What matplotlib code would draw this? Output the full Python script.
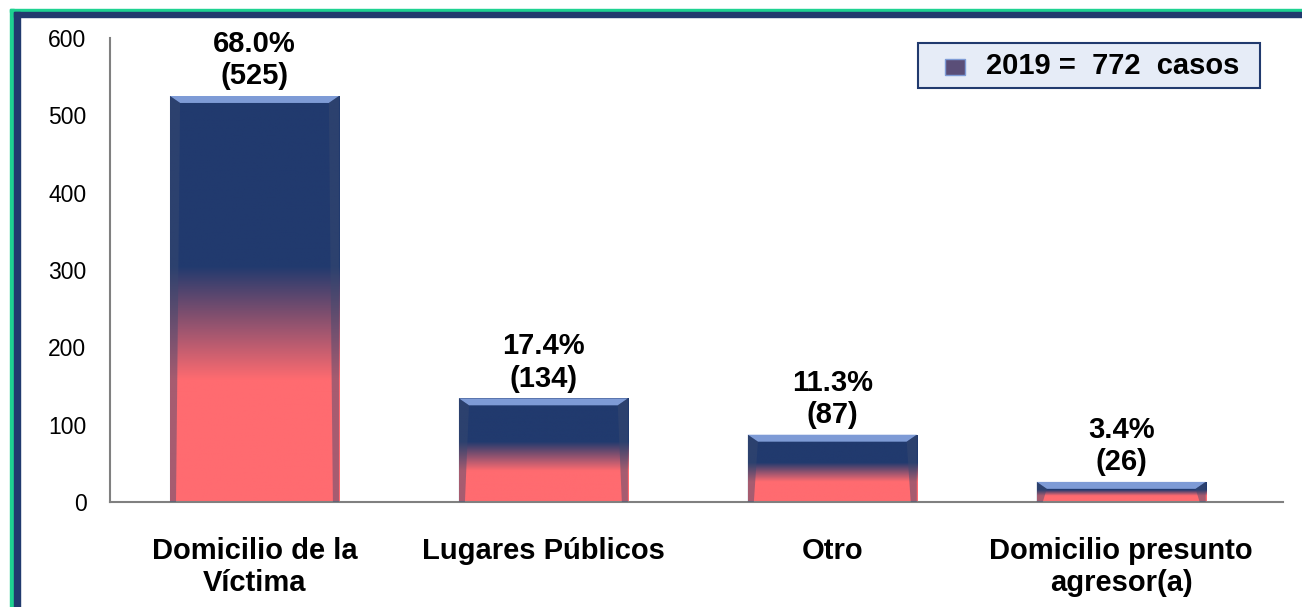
import numpy as np
import matplotlib
matplotlib.use('Agg')
import matplotlib.pyplot as plt
from matplotlib.colors import LinearSegmentedColormap
from matplotlib.patches import Polygon, Rectangle

plt.rcParams['font.family'] = ['Liberation Sans', 'DejaVu Sans']

# Data
categories = ['Domicilio de la\nVíctima', 'Lugares Públicos', 'Otro', 'Domicilio presunto\nagresor(a)']
cases = [525, 134, 87, 26]
percents = [68.0, 17.4, 11.3, 3.4]
legend_text = '2019 =  772  casos'

navy = '#213A6E'
red = '#FF6B70'
bevel = '#7E9BD6'

cmap = LinearSegmentedColormap.from_list(
    'barfade', [(0.0, red), (0.30, red), (0.58, navy), (1.0, navy)])

fig = plt.figure(figsize=(13.02, 6.07), dpi=100)

# frame lines on left and top
fig.patches.append(Rectangle((10 / 1302, 0), 4 / 1302, 1 - 9 / 607,
                             transform=fig.transFigure, color='#1ED291', zorder=0))
fig.patches.append(Rectangle((10 / 1302, 1 - 12 / 607), 1 - 10 / 1302, 3 / 607,
                             transform=fig.transFigure, color='#1ED291', zorder=0))
fig.patches.append(Rectangle((14 / 1302, 0), 6 / 1302, 1 - 12 / 607,
                             transform=fig.transFigure, color=navy, zorder=1))
fig.patches.append(Rectangle((14 / 1302, 1 - 17 / 607), 1 - 14 / 1302, 5 / 607,
                             transform=fig.transFigure, color=navy, zorder=1))

ax = fig.add_axes([110 / 1302, 1 - 502 / 607, (1283 - 110) / 1302, (502 - 38) / 607])
x = np.arange(len(categories))
bars = ax.bar(x, cases, width=0.585, color='none', edgecolor='none', zorder=2)

grad = np.linspace(0, 1, 256).reshape(-1, 1)
for b in bars:
    x0, w, h = b.get_x(), b.get_width(), b.get_height()
    im = ax.imshow(grad, cmap=cmap, origin='lower', aspect='auto',
                   extent=[x0, x0 + w, 0, h], zorder=2)
    im.set_clip_path(b)
    # bevel: lighter top, darker sides
    bh = min(9.0, h * 0.45)
    bw = 0.035
    ax.add_patch(Polygon([[x0, h], [x0 + w, h], [x0 + w - bw, h - bh], [x0 + bw, h - bh]],
                         closed=True, color=bevel, zorder=3, lw=0))
    ax.add_patch(Polygon([[x0, 0], [x0, h], [x0 + bw, h - bh], [x0 + bw * 0.6, 0]],
                         closed=True, color='#3A4A70', alpha=0.45, zorder=3, lw=0))
    ax.add_patch(Polygon([[x0 + w, 0], [x0 + w, h], [x0 + w - bw, h - bh], [x0 + w - bw * 0.6, 0]],
                         closed=True, color='#3A4A70', alpha=0.45, zorder=3, lw=0))

for xi, v, p in zip(x, cases, percents):
    ax.annotate(f'{p:.1f}%\n({v})', (xi, v), xytext=(0, 4), textcoords='offset points',
                ha='center', va='bottom', fontsize=21, fontweight='bold', linespacing=1.2)

ax.set_xlim(-0.5, len(categories) - 0.44)
ax.set_ylim(0, 600)
ax.set_yticks(range(0, 601, 100))
ax.set_xticks(x)
ax.set_xticklabels(categories, fontsize=21, fontweight='bold', linespacing=1.2)
ax.tick_params(axis='y', length=0, pad=17, labelsize=16.5)
ax.tick_params(axis='x', length=0, pad=25)
for s in ['top', 'right']:
    ax.spines[s].set_visible(False)
for s in ['left', 'bottom']:
    ax.spines[s].set_color('#808080')
    ax.spines[s].set_linewidth(1.5)

# legend box
fig.patches.append(Rectangle((918 / 1302, 1 - 88 / 607), 342 / 1302, 45 / 607,
                             transform=fig.transFigure, facecolor='#E6ECF7',
                             edgecolor=navy, lw=1.5, zorder=5))
fig.patches.append(Rectangle((945 / 1302, 1 - 75 / 607), 20 / 1302, 16 / 607,
                             transform=fig.transFigure, facecolor='#5A4E78',
                             edgecolor='#7E9BD6', lw=1, zorder=6))
fig.text(986 / 1302, 1 - 66 / 607, legend_text, fontsize=21, fontweight='bold',
         va='center', ha='left', zorder=7)

fig.savefig('out.png', dpi=100)
